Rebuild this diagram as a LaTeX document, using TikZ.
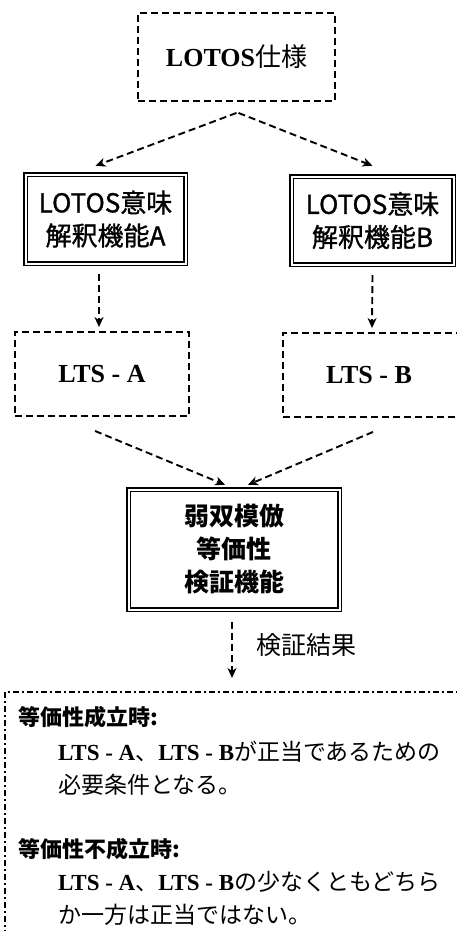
\documentclass[tikz,border=0pt]{standalone}
\usepackage{fontspec}
\setmainfont{Liberation Serif}
\newfontfamily\jp{Noto Sans CJK JP}
\newfontfamily\jpm[FakeBold=1.2]{Noto Sans CJK JP}
\usetikzlibrary{arrows.meta}
\tikzset{
  dashbox/.style={draw, line width=1.9pt, dash pattern=on 7pt off 4pt, rectangle, inner sep=0pt, align=center},
  dblbox/.style={draw, line width=1.4pt, double, double distance=2pt, rectangle, inner sep=0pt, align=center},
  arr/.style={line width=1.9pt, dash pattern=on 7pt off 4pt, -{Stealth[length=10pt,width=9pt,inset=3pt]}},
  dashdot/.style={line width=1.9pt, dash pattern=on 6pt off 3pt on 2pt off 3pt},
}
\begin{document}
\begin{tikzpicture}[x=1pt,y=-1pt]
\useasboundingbox (0,0) rectangle (456,931);
\node[dashbox, minimum width=197pt, minimum height=88pt, font=\fontsize{26}{30}\selectfont] (top) at (236.5,57) {\bfseries LOTOS{\mdseries\jp 仕様}};
\node[dblbox, minimum width=160pt, minimum height=89pt, font=\fontsize{26}{33}\selectfont\jpm] (fA) at (105.5,219) {LOTOS意味\\解釈機能A};
\node[dblbox, minimum width=162pt, minimum height=88pt, font=\fontsize{26}{33}\selectfont\jpm] (fB) at (372.5,220.5) {LOTOS意味\\解釈機能B};
\node[dashbox, minimum width=174pt, minimum height=84pt, font=\fontsize{26}{30}\selectfont\bfseries] (ltsA) at (102,374) {LTS - A};
\node[dashbox, minimum width=180pt, minimum height=84pt, font=\fontsize{26}{30}\selectfont\bfseries] (ltsB) at (373,375) {LTS - B\hspace*{8pt}};
\node[dblbox, minimum width=211pt, minimum height=120pt, font=\fontsize{25}{33}\selectfont\jp\bfseries] (weak) at (234,549.5) {弱双模倣\\等価性\\検証機能};
\coordinate (res) at (232,678);
\node[anchor=west, font=\fontsize{25}{30}\selectfont\jp] (lbl) at (253,645) {検証結果};

\draw[arr] ([yshift=-11pt]top.south) -- ([yshift=8pt,xshift=-10pt]fA.north);
\draw[arr] ([yshift=-11pt,xshift=2pt]top.south) -- ([yshift=10pt]fB.north);
\draw[arr] ([xshift=-6.5pt,yshift=-10pt]fA.south) -- ([xshift=-3pt,yshift=4pt]ltsA.north);
\draw[arr] ([yshift=-10pt]fB.south) -- ([xshift=-1pt,yshift=4pt]ltsB.north);
\draw[arr] ([xshift=-7pt,yshift=-14pt]ltsA.south) -- ([xshift=-9pt,yshift=4pt]weak.north);
\draw[arr] ([xshift=0pt,yshift=-14pt]ltsB.south) -- ([xshift=14pt,yshift=4pt]weak.north);
\draw[arr] ([xshift=-2pt,yshift=-12pt]weak.south) -- (res);

\draw[dashdot] (5,950) -- (5,692) -- (470,692);
\tikzset{hd/.style={anchor=west, font=\fontsize{22}{26}\selectfont\jp\bfseries, inner sep=0pt},
         bd/.style={anchor=west, font=\fontsize{23}{26}\selectfont\jp, inner sep=0pt}}
\node[hd] (h1) at (18,717) {等価性成立時:};
\node[bd] (b1) at (58,752) {{\rmfamily\bfseries LTS - A}、{\rmfamily\bfseries LTS - B}が正当であるための};
\node[bd] (b2) at (58,785) {必要条件となる。};
\node[hd] (h2) at (18,849) {等価性不成立時:};
\node[bd] (b3) at (58,882) {{\rmfamily\bfseries LTS - A}、{\rmfamily\bfseries LTS - B}の少なくともどちら};
\node[bd] (b4) at (58,915) {か一方は正当ではない。};
\end{tikzpicture}
\end{document}
